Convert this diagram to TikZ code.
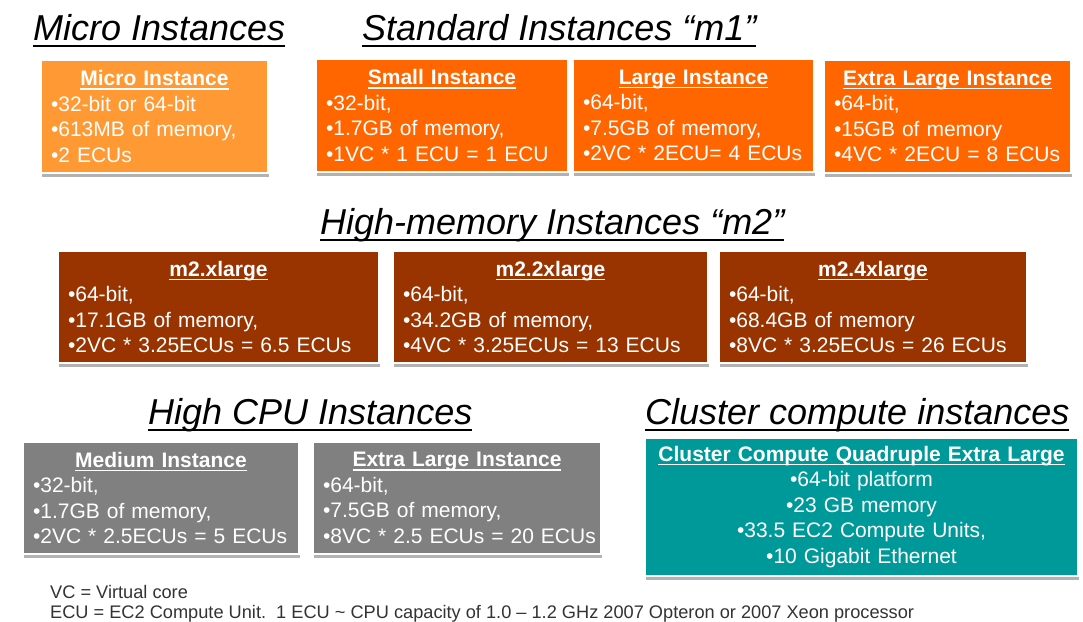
\documentclass[tikz,border=0pt]{standalone}
\usepackage{fontspec}
\setmainfont{Liberation Sans}
\usetikzlibrary{shadows}
\setlength\parindent{0pt}
\definecolor{microC}{HTML}{FF9933}
\definecolor{stdC}{HTML}{FF6600}
\definecolor{memC}{HTML}{993300}
\definecolor{cpuC}{HTML}{808080}
\definecolor{clusC}{HTML}{009999}
\newcommand\ulx[3]{\setbox0\hbox{#3}\rlap{\rule[-#1]{\wd0}{#2}}\box0}
\newcommand\hd[1]{{\centering\bfseries\ulx{4pt}{1.5pt}{#1}\par}}
\newcommand\ttl[1]{\ulx{7pt}{1.8pt}{#1}}
\tikzset{
  box/.style={draw=white, line width=2pt, inner xsep=10pt, inner ysep=0pt,
    anchor=north west, text=white, font=\fontsize{21}{25.5}\selectfont,
    drop shadow={shadow xshift=1pt, shadow yshift=-3.5pt, fill=black!30, opacity=1}},
  title/.style={anchor=base west, inner sep=0pt, font=\fontsize{36}{40}\selectfont\itshape},
  foot/.style={anchor=base west, inner sep=0pt, font=\fontsize{18.2}{20}\selectfont, text=black!80}
}
\newcommand\bx[7]{% name, x1, y1, x2, y2, color, content
  \node[box, fill=#6, minimum width=\fpeval{#4-#2}pt, minimum height=\fpeval{#5-#3}pt,
    text width=\fpeval{#4-#2-20}pt] (#1) at (#2,#3) {#7};}
\begin{document}
\begin{tikzpicture}[x=1pt,y=-1pt]
\useasboundingbox[fill=white] (0,0) rectangle (1083,621);
% titles
\node[title] (tmicro) at (33,40) {\ttl{Micro Instances}};
\node[title] (tstd) at (362,40) {\ttl{Standard Instances “m1”}};
\node[title] (tmem) at (320,234) {\ttl{High-memory Instances “m2”}};
\node[title] (tcpu) at (148,424) {\ttl{High CPU Instances}};
\node[title] (tclus) at (645,424) {\ttl{Cluster compute instances}};
% row 1
\bx{micro}{40}{59}{267}{172}{microC}{\hd{Micro Instance}•32-bit or 64-bit\\•613MB of memory,\\•2 ECUs}
\bx{small}{315}{58}{567}{171}{stdC}{\hd{Small Instance}•32-bit,\\•1.7GB of memory,\\•1VC * 1 ECU = 1 ECU}
\bx{large}{572}{58}{813}{171}{stdC}{\hd{Large Instance}•64-bit,\\•7.5GB of memory,\\•2VC * 2ECU= 4 ECUs}
\bx{xl}{823}{59}{1070}{172}{stdC}{\hd{Extra Large Instance}•64-bit,\\•15GB of memory\\•4VC * 2ECU = 8 ECUs}
% row 2
\bx{mxl}{57}{250}{378}{362}{memC}{\hd{m2.xlarge}•64-bit,\\•17.1GB of memory,\\•2VC * 3.25ECUs = 6.5 ECUs}
\bx{m2xl}{392}{250}{707}{362}{memC}{\hd{m2.2xlarge}•64-bit,\\•34.2GB of memory,\\•4VC * 3.25ECUs = 13 ECUs}
\bx{m4xl}{718}{250}{1026}{362}{memC}{\hd{m2.4xlarge}•64-bit,\\•68.4GB of memory\\•8VC * 3.25ECUs = 26 ECUs}
% row 3
\bx{med}{22}{441}{298}{553}{cpuC}{\hd{Medium Instance}•32-bit,\\•1.7GB of memory,\\•2VC * 2.5ECUs = 5 ECUs}
\bx{cxl}{312}{441}{600}{553}{cpuC}{\hd{Extra Large Instance}•64-bit,\\•7.5GB of memory,\\\mbox{•8VC * 2.5 ECUs = 20 ECUs}}
\bx{clus}{644}{437}{1077}{575}{clusC}{\centering\hd{Cluster Compute Quadruple Extra Large}•64-bit platform\\•23 GB memory\\•33.5 EC2 Compute Units,\\•10 Gigabit Ethernet\par}
% footer
\node[foot] (f1) at (50,598) {VC = Virtual core};
\node[foot] (f2) at (50,618) {ECU = EC2 Compute Unit.\ \ 1 ECU \textasciitilde{} CPU capacity of 1.0 – 1.2 GHz 2007 Opteron or 2007 Xeon processor};
\end{tikzpicture}
\end{document}
